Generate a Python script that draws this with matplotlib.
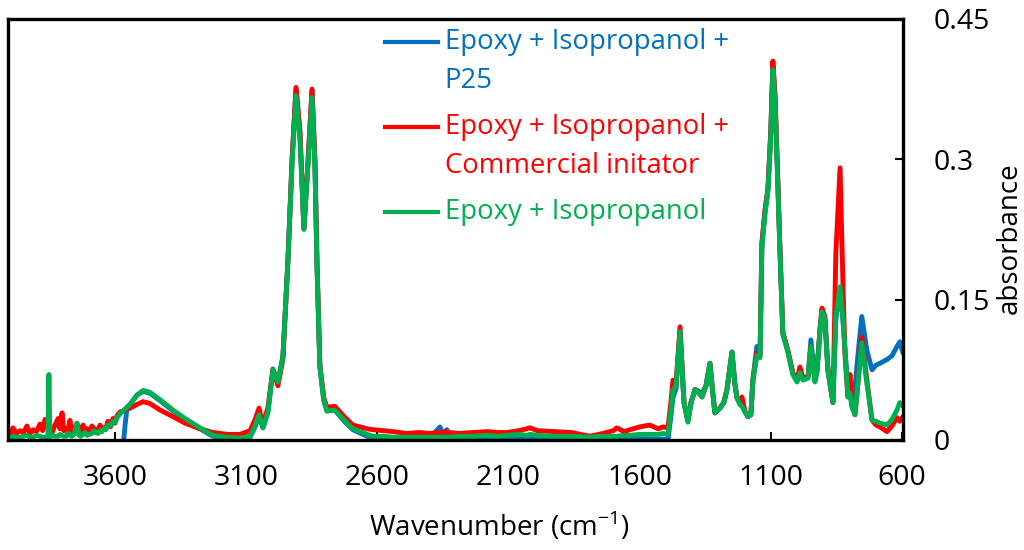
import matplotlib
matplotlib.use("Agg")
import matplotlib.pyplot as plt
from matplotlib.lines import Line2D

plt.rcParams['font.family'] = ['Open Sans', 'DejaVu Sans']
plt.rcParams['mathtext.fontset'] = 'custom'
plt.rcParams['mathtext.rm'] = 'Open Sans'

# wavenumber grid (cm-1)
wavenumber = [
    4005, 3997, 3989, 3975, 3962, 3949, 3936, 3924, 3913, 3900,
    3886, 3876, 3867, 3856, 3852, 3848, 3838, 3829, 3817, 3810,
    3802, 3795, 3787, 3780, 3772, 3764, 3756, 3745, 3737, 3730,
    3722, 3714, 3707, 3697, 3688, 3680, 3673, 3665, 3657, 3650,
    3642, 3635, 3627, 3617, 3608, 3600, 3592, 3581, 3570, 3562,
    3554, 3543, 3516, 3493, 3467, 3428, 3379, 3333, 3276, 3227,
    3170, 3124, 3085, 3066, 3051, 3036, 3017, 2998, 2979, 2960,
    2941, 2925, 2910, 2895, 2880, 2864, 2849, 2838, 2830, 2819,
    2804, 2792, 2762, 2723, 2693, 2639, 2616,
    2580, 2540, 2487, 2440, 2400, 2361, 2350, 2335, 2323, 2290,
    2235, 2180, 2140, 2106, 2060, 2030, 2018, 1990, 1923, 1860,
    1790, 1740, 1700, 1687, 1660, 1637, 1600, 1561, 1530, 1511,
    1492,
    1481, 1473, 1461, 1446, 1431, 1416, 1404, 1389, 1374, 1362,
    1347, 1332, 1321, 1313, 1294, 1279, 1267, 1248, 1237, 1229,
    1218, 1210, 1198, 1187, 1176, 1168, 1153, 1141, 1134, 1122,
    1111, 1100, 1092, 1084, 1077, 1065, 1054, 1035, 1016, 1000,
    989, 977, 958, 947, 932, 924, 912, 905, 894, 882,
    863, 852, 836, 825, 817, 806, 798, 791, 779, 768,
    753, 734, 714, 699, 684, 657, 638, 619, 608, 596,
]

abs_p25 = [
    -0.01, -0.01, -0.01, -0.01, -0.01, -0.01, -0.01, -0.01, -0.01, -0.01,
    -0.01, -0.01, -0.01, -0.01, -0.01, -0.01, -0.01, -0.01, -0.01, -0.01,
    -0.01, -0.01, -0.01, -0.01, -0.01, -0.01, -0.01, -0.01, -0.01, -0.01,
    -0.01, -0.01, -0.01, -0.01, -0.01, -0.01, -0.01, -0.01, -0.01, -0.01,
    -0.01, -0.01, -0.01, -0.01, -0.01, -0.01, -0.01, -0.01, -0.01, 0.015,
    0.035, 0.038, 0.048, 0.052, 0.050, 0.042, 0.031, 0.022, 0.012, 0.004,
    0.002, 0.001, 0.003, 0.014, 0.027, 0.013, 0.030, 0.076, 0.062, 0.090,
    0.192, 0.300, 0.376, 0.328, 0.226, 0.298, 0.374, 0.298, 0.188, 0.078,
    0.042, 0.031, 0.032, 0.019, 0.011, 0.004, 0.002,
    0.002, 0.001, 0.001, 0.002, 0.002, 0.014, 0.005, 0.011, 0.002, 0.001,
    0.001, 0.001, 0.001, 0.001, 0.001, 0.001, 0.001, 0.001, 0.001, 0.001,
    0.001, 0.001, 0.001, 0.001, 0.001, 0.001, 0.001, 0.001, 0.001, 0.001,
    0.000,
    0.025, 0.045, 0.055, 0.118, 0.040, 0.020, 0.040, 0.054, 0.052, 0.050,
    0.058, 0.082, 0.050, 0.029, 0.034, 0.040, 0.054, 0.094, 0.060, 0.045,
    0.040, 0.040, 0.030, 0.025, 0.027, 0.066, 0.100, 0.092, 0.210, 0.245,
    0.268, 0.330, 0.400, 0.366, 0.308, 0.202, 0.114, 0.095, 0.071, 0.063,
    0.074, 0.065, 0.067, 0.107, 0.064, 0.074, 0.118, 0.139, 0.131, 0.074,
    0.040, 0.130, 0.160, 0.128, 0.095, 0.057, 0.055, 0.045, 0.057, 0.090,
    0.132, 0.096, 0.075, 0.080, 0.082, 0.086, 0.090, 0.100, 0.105, 0.093,
]

abs_commercial = [
    0.008, 0.006, 0.013, 0.007, 0.010, 0.008, 0.015, 0.007, 0.011, 0.009,
    0.017, 0.010, 0.022, 0.012, 0.012, 0.012, 0.009, 0.016, 0.023, 0.012,
    0.029, 0.010, 0.012, 0.009, 0.021, 0.010, 0.011, 0.018, 0.012, 0.009,
    0.016, 0.011, 0.012, 0.010, 0.015, 0.012, 0.011, 0.010, 0.016, 0.011,
    0.013, 0.012, 0.020, 0.014, 0.023, 0.018, 0.026, 0.030, 0.031, 0.032,
    0.033, 0.034, 0.038, 0.041, 0.039, 0.032, 0.025, 0.018, 0.012, 0.008,
    0.006, 0.006, 0.010, 0.022, 0.034, 0.016, 0.035, 0.075, 0.058, 0.086,
    0.190, 0.300, 0.377, 0.330, 0.226, 0.300, 0.375, 0.300, 0.190, 0.080,
    0.045, 0.035, 0.036, 0.024, 0.016, 0.012, 0.011,
    0.010, 0.009, 0.007, 0.008, 0.007, 0.008, 0.009, 0.008, 0.008, 0.007,
    0.008, 0.009, 0.008, 0.008, 0.010, 0.012, 0.013, 0.010, 0.009, 0.008,
    0.004, 0.007, 0.010, 0.013, 0.009, 0.011, 0.014, 0.016, 0.012, 0.014,
    0.013,
    0.040, 0.064, 0.062, 0.121, 0.040, 0.021, 0.040, 0.054, 0.050, 0.046,
    0.058, 0.082, 0.050, 0.029, 0.034, 0.040, 0.054, 0.094, 0.060, 0.045,
    0.040, 0.046, 0.030, 0.025, 0.027, 0.064, 0.093, 0.090, 0.210, 0.246,
    0.268, 0.330, 0.405, 0.370, 0.311, 0.204, 0.115, 0.096, 0.072, 0.064,
    0.078, 0.066, 0.068, 0.100, 0.064, 0.075, 0.120, 0.141, 0.132, 0.075,
    0.040, 0.200, 0.291, 0.168, 0.090, 0.046, 0.070, 0.040, 0.027, 0.060,
    0.110, 0.065, 0.021, 0.016, 0.014, 0.009, 0.015, 0.024, 0.020, 0.025,
]

abs_plain = [
    0.003, 0.002, 0.004, 0.003, 0.003, 0.004, 0.005, 0.003, 0.003, 0.005,
    0.004, 0.003, 0.003, 0.003, 0.070, 0.003, 0.005, 0.004, 0.004, 0.006,
    0.005, 0.004, 0.004, 0.007, 0.005, 0.004, 0.006, 0.018, 0.005, 0.004,
    0.006, 0.008, 0.005, 0.006, 0.007, 0.010, 0.008, 0.007, 0.010, 0.009,
    0.012, 0.011, 0.016, 0.015, 0.020, 0.019, 0.024, 0.028, 0.031, 0.033,
    0.035, 0.038, 0.048, 0.053, 0.051, 0.043, 0.032, 0.023, 0.013, 0.005,
    0.003, 0.002, 0.004, 0.015, 0.027, 0.013, 0.030, 0.075, 0.062, 0.088,
    0.190, 0.295, 0.368, 0.322, 0.225, 0.295, 0.366, 0.295, 0.185, 0.078,
    0.042, 0.031, 0.032, 0.020, 0.012, 0.006, 0.004,
    0.004, 0.003, 0.003, 0.003, 0.003, 0.003, 0.003, 0.003, 0.003, 0.004,
    0.004, 0.005, 0.004, 0.005, 0.006, 0.005, 0.006, 0.005, 0.004, 0.004,
    0.003, 0.004, 0.004, 0.004, 0.005, 0.005, 0.006, 0.006, 0.006, 0.007,
    0.006,
    0.030, 0.053, 0.058, 0.116, 0.040, 0.019, 0.040, 0.054, 0.050, 0.046,
    0.058, 0.082, 0.050, 0.029, 0.034, 0.040, 0.054, 0.094, 0.060, 0.045,
    0.038, 0.036, 0.030, 0.025, 0.027, 0.064, 0.090, 0.088, 0.205, 0.242,
    0.265, 0.325, 0.396, 0.362, 0.305, 0.200, 0.113, 0.094, 0.070, 0.062,
    0.072, 0.064, 0.066, 0.100, 0.062, 0.072, 0.118, 0.137, 0.130, 0.073,
    0.040, 0.132, 0.164, 0.130, 0.096, 0.046, 0.050, 0.035, 0.027, 0.060,
    0.104, 0.061, 0.021, 0.020, 0.018, 0.016, 0.022, 0.032, 0.040, 0.036,
]

series = [
    (["Epoxy + Isopropanol +", "P25"], abs_p25, "#0070C0"),
    (["Epoxy + Isopropanol +", "Commercial initator"], abs_commercial, "#FF0000"),
    (["Epoxy + Isopropanol"], abs_plain, "#00B050"),
]

x_ticks = [3600, 3100, 2600, 2100, 1600, 1100, 600]
y_ticks = [0, 0.15, 0.3, 0.45]
y_ticklabels = ["0", "0.15", "0.3", "0.45"]

fig = plt.figure(figsize=(10.24, 5.5), dpi=100)
ax = fig.add_axes([8/1024, 110/550, 895/1024, 421/550])

for labels, values, color in series:
    ax.plot(wavenumber, values, color=color, lw=3.5, solid_joinstyle='round', solid_capstyle='round')

ax.set_xlim(4008, 596)
ax.set_ylim(0, 0.45)

for s in ax.spines.values():
    s.set_linewidth(2.4)
    s.set_color('black')
    s.set_zorder(5)

ax.set_xticks(x_ticks)
ax.set_xticklabels([str(t) for t in x_ticks])
ax.yaxis.tick_right()
ax.set_yticks(y_ticks)
ax.set_yticklabels(y_ticklabels)
ax.tick_params(axis='both', direction='in', length=6, width=1.5, labelsize=20.5, colors='black')
ax.tick_params(axis='x', pad=17)
ax.tick_params(axis='y', pad=22)

ax.text(0.549, -0.165, 'Wavenumber (cm$^{\\mathregular{-1}}$)', transform=ax.transAxes,
        ha='center', va='top', fontsize=20)
ax.text(1.119, 0.48, 'absorbance', transform=ax.transAxes, rotation=90,
        ha='center', va='center', fontsize=20)

# hand-made legend, handle next to first line of each entry
leg_y = [0.945, 0.743, 0.542]
line_gap = 0.093
for (labels, values, color), y in zip(series, leg_y):
    ax.add_line(Line2D([0.421, 0.480], [y, y], transform=ax.transAxes, color=color, lw=3))
    for i, lab in enumerate(labels):
        ax.text(0.488, y - i * line_gap, lab, transform=ax.transAxes, color=color,
                ha='left', va='center', fontsize=19.8)

fig.savefig('out.png', dpi=100)
